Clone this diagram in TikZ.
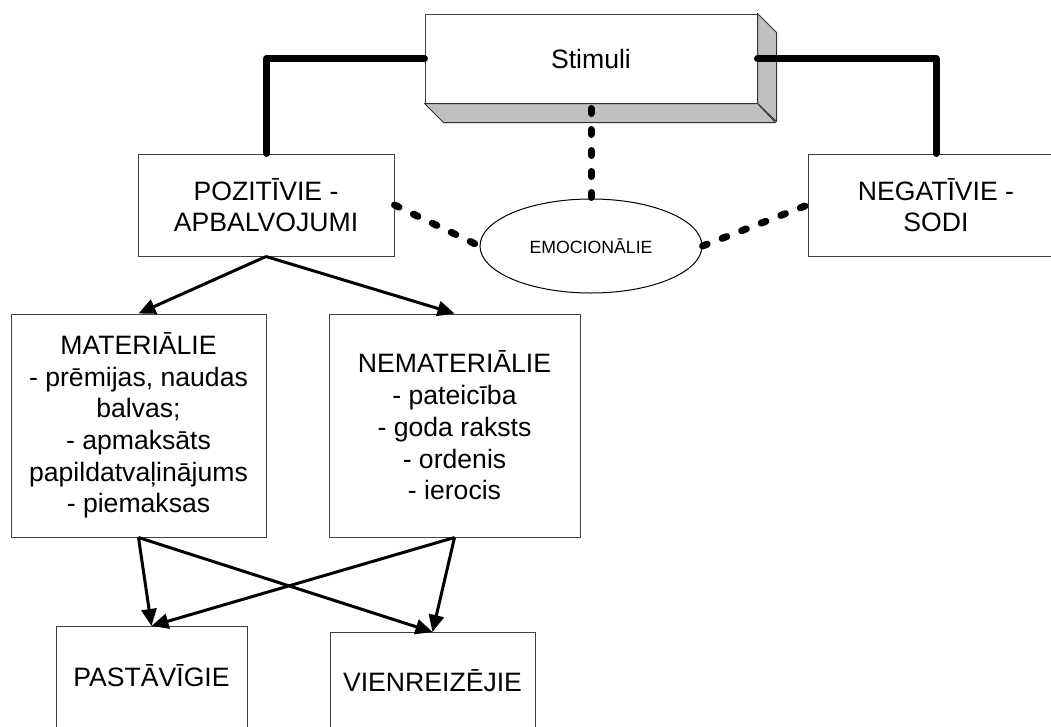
\documentclass[tikz,border=0pt]{standalone}
\usepackage{fontspec}
\setmainfont{Liberation Sans}
\usetikzlibrary{arrows.meta,shapes.geometric}
\definecolor{sidegray}{HTML}{C0C0C0}
\begin{document}
\begin{tikzpicture}[x=1pt,y=-1pt,
  box/.style={draw=black!75,fill=white,line width=1pt,inner sep=0pt,align=center,font=\fontsize{26.6}{31.7}\selectfont},
  thickcon/.style={line width=7pt,line join=round,line cap=round},
  dashcon/.style={line width=7pt,line cap=round,dash pattern=on 5pt off 16pt},
  arr/.style={line width=3pt,-{Triangle[length=17pt,width=15pt]}},
  face/.style={fill=sidegray,draw=black!80,line width=1pt,line join=round}
]
\useasboundingbox (0,0) rectangle (1051,726);
\clip (0,0) rectangle (1051,726);

% Stimuli 3D box
\node[box,minimum width=332pt,minimum height=89pt] (stim) at (591,58.5) {Stimuli};
\filldraw[face] (stim.north east) -- ++(19,19) -- ++(0,89) -- (stim.south east) -- cycle;
\filldraw[face] (stim.south west) -- ++(19,19) -- ++(332,0) -- (stim.south east) -- cycle;

\node[box,minimum width=256pt,minimum height=102pt] (poz) at (266,205) {POZITĪVIE -\\APBALVOJUMI};
\node[box,minimum width=256pt,minimum height=102pt] (neg) at (936,205) {NEGATĪVIE -\\SODI};
\node[ellipse,draw=black,fill=white,line width=1pt,minimum width=222pt,minimum height=94pt,inner sep=0pt,font=\fontsize{17.7}{20}\selectfont] (emo) at (591,246) {EMOCIONĀLIE};

\node[box,minimum width=255pt,minimum height=223pt] (mat) at (138.5,425.5)
  {MATERIĀLIE\\- prēmijas, naudas\\balvas;\\- apmaksāts\\papildatvaļinājums\\- piemaksas};
\node[box,minimum width=251pt,minimum height=223pt] (nemat) at (454.5,425.5)
  {NEMATERIĀLIE\\- pateicība\\- goda raksts\\- ordenis\\- ierocis};

\node[box,anchor=north,minimum width=191pt,text height=60pt,text depth=100pt] (past) at (151.5,626) {PASTĀVĪGIE};
\node[box,anchor=north,minimum width=205pt,text height=59pt,text depth=100pt] (vien) at (432.5,632) {VIENREIZĒJIE};

% connectors
\draw[thickcon] (stim.west) -| (poz.north);
\draw[thickcon] (stim.east) -| (neg.north);
\draw[dashcon,dash phase=16pt] (stim.south) -- (emo.north);
\draw[dashcon] (poz.east) -- (emo.west);
\draw[dashcon] (emo.east) -- (neg.west);

\draw[arr] (poz.south) -- (mat.north);
\draw[arr] (poz.south) -- (nemat.north);
\draw[arr] (mat.south) -- (past.north);
\draw[arr] (mat.south) -- (vien.north);
\draw[arr] (nemat.south) -- (past.north);
\draw[arr] (nemat.south) -- (vien.north);
\end{tikzpicture}
\end{document}
